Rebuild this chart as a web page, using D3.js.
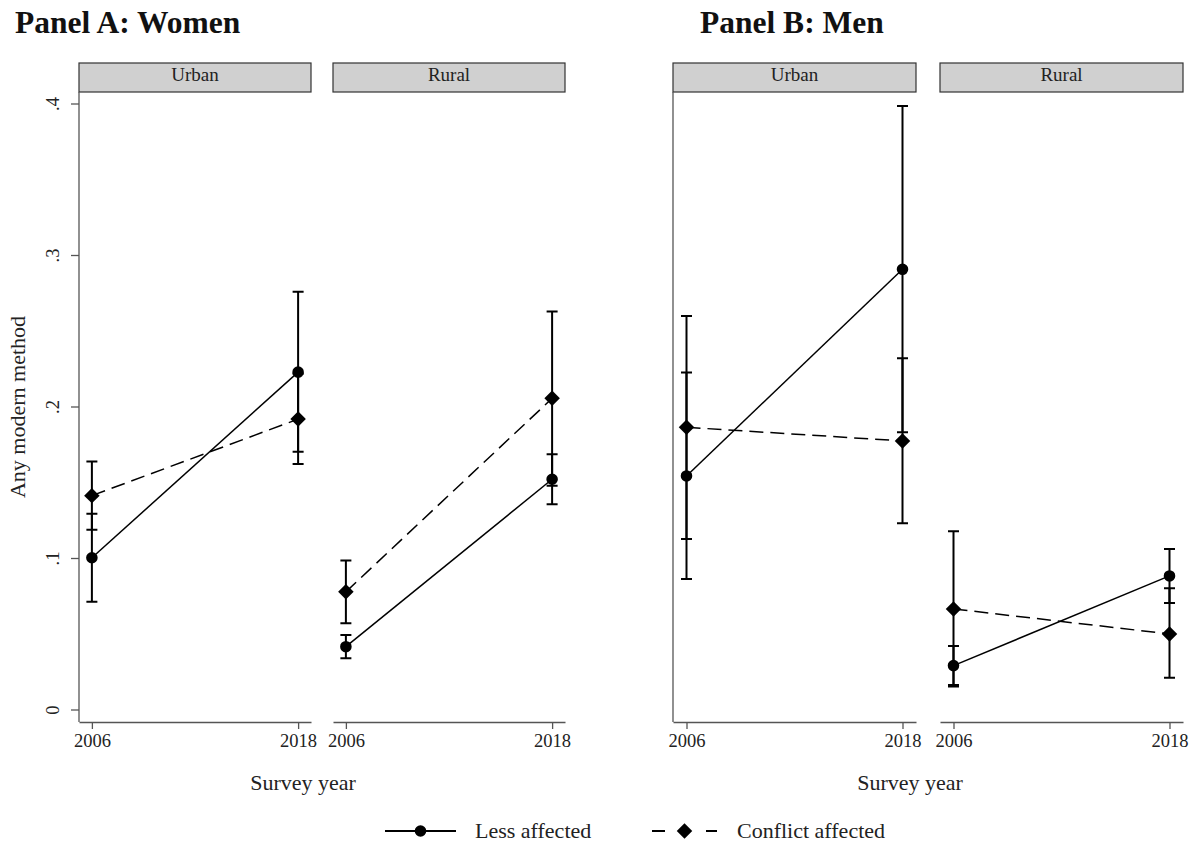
<!DOCTYPE html>
<html>
<head>
<meta charset="utf-8">
<script src="https://cdn.jsdelivr.net/npm/d3@7"></script>
<style>
  body { margin: 0; background: #fff; }
  svg { display: block; font-family: "Liberation Serif", "Times New Roman", serif; }
</style>
</head>
<body>
<svg id="chart" width="1195" height="845"></svg>
<script>
// facets in drawing order: Women-Urban, Women-Rural, Men-Urban, Men-Rural
var panelTitles = ['Panel A: Women', 'Panel B: Men']
var areas = ['Urban', 'Rural', 'Urban', 'Rural']
var years = [2006, 2018]
var yTicks = [0, 0.1, 0.2, 0.3, 0.4]
var yTickLabels = ['0', '.1', '.2', '.3', '.4']
var seriesNames = ['Less affected', 'Conflict affected']

// point estimates and CI bounds, [2006, 2018] per facet
var lessEst = [[0.1005, 0.223], [0.0418, 0.1523], [0.1545, 0.2909], [0.0293, 0.0885]]
var lessLo = [[0.0715, 0.1705], [0.0341, 0.1358], [0.0865, 0.1833], [0.0165, 0.0707]]
var lessHi = [[0.1295, 0.276], [0.0495, 0.1688], [0.2227, 0.3987], [0.0422, 0.1063]]

var conflictEst = [[0.1415, 0.192], [0.078, 0.2057], [0.1866, 0.1776], [0.0667, 0.0502]]
var conflictLo = [[0.119, 0.1624], [0.0572, 0.148], [0.1129, 0.1232], [0.0155, 0.0213]]
var conflictHi = [[0.164, 0.222], [0.0986, 0.263], [0.260, 0.2321], [0.118, 0.0803]]

var svg = d3.select('#chart')

var axisColor = '#555'
var textColor = '#222'
var plotTop = 92, plotBottom = 722

var facets = [
  {x0: 79, x1: 311, yAxis: true, yLabels: true},
  {x0: 333, x1: 565},
  {x0: 673, x1: 916, yAxis: true},
  {x0: 940, x1: 1183}
]

var y = d3.scaleLinear().domain([0, 0.4]).range([710, 104])

// panel titles
svg.selectAll('text.panel-title')
  .data(panelTitles)
  .join('text')
  .attr('class', 'panel-title')
  .attr('x', (d, i) => i == 0 ? 15 : 700)
  .attr('y', 33)
  .attr('font-size', 31.5)
  .attr('font-weight', 'bold')
  .attr('fill', '#111')
  .text(d => d)

function rows(est, lo, hi, f){
  return years.map((yr, j) => ({year: yr, est: est[f][j], lo: lo[f][j], hi: hi[f][j]}))
}

facets.forEach((fc, f) => {
  var x = d3.scaleLinear().domain([2005.25, 2018.75]).range([fc.x0, fc.x1])
  var g = svg.append('g')

  // strip
  g.append('rect')
    .attr('x', fc.x0).attr('y', 63)
    .attr('width', fc.x1 - fc.x0).attr('height', plotTop - 63)
    .attr('fill', '#d0d0d0').attr('stroke', '#333').attr('stroke-width', 1.2)
  g.append('text')
    .attr('x', (fc.x0 + fc.x1)/2).attr('y', 81)
    .attr('text-anchor', 'middle').attr('font-size', 19).attr('fill', textColor)
    .text(areas[f])

  // x axis
  var xAxis = d3.axisBottom(x).tickValues(years).tickFormat(d3.format('d'))
    .tickSizeInner(7).tickSizeOuter(0).tickPadding(5)
  var xg = g.append('g').attr('transform', 'translate(0,' + plotBottom + ')').call(xAxis)
  xg.select('.domain').attr('stroke', axisColor).attr('stroke-width', 1.3)
  xg.selectAll('.tick line').attr('stroke', axisColor).attr('stroke-width', 1.3)
  xg.selectAll('.tick text')
    .attr('font-family', '"Liberation Serif", serif')
    .attr('font-size', 18.5).attr('fill', textColor)

  // y axis
  if (fc.yAxis){
    g.append('line')
      .attr('x1', fc.x0).attr('x2', fc.x0)
      .attr('y1', plotTop).attr('y2', plotBottom)
      .attr('stroke', axisColor).attr('stroke-width', 1.3)
  }
  if (fc.yLabels){
    g.selectAll('line.ytick')
      .data(yTicks)
      .join('line')
      .attr('class', 'ytick')
      .attr('x1', fc.x0 - 8).attr('x2', fc.x0)
      .attr('y1', d => y(d)).attr('y2', d => y(d))
      .attr('stroke', axisColor).attr('stroke-width', 1.3)
    g.selectAll('text.ytick')
      .data(yTicks)
      .join('text')
      .attr('class', 'ytick')
      .attr('transform', d => 'translate(59,' + y(d) + ') rotate(-90)')
      .attr('text-anchor', 'middle')
      .attr('font-size', 18.5).attr('fill', textColor)
      .text((d, i) => yTickLabels[i])
  }

  var series = [
    {data: rows(lessEst, lessLo, lessHi, f), dash: null, shape: 'circle'},
    {data: rows(conflictEst, conflictLo, conflictHi, f), dash: '14,7', shape: 'diamond'}
  ]

  // confidence intervals
  series.forEach(s => {
    var cap = 5.5
    g.selectAll(null)
      .data(s.data)
      .join('path')
      .attr('d', d => 'M' + [x(d.year), y(d.lo)] + 'V' + y(d.hi) +
        'M' + [x(d.year) - cap, y(d.lo)] + 'H' + (x(d.year) + cap) +
        'M' + [x(d.year) - cap, y(d.hi)] + 'H' + (x(d.year) + cap))
      .attr('fill', 'none').attr('stroke', '#000').attr('stroke-width', 2)
  })

  var line = d3.line().x(d => x(d.year)).y(d => y(d.est))
  series.forEach(s => {
    g.append('path')
      .datum(s.data)
      .attr('d', line)
      .attr('fill', 'none').attr('stroke', '#000').attr('stroke-width', 1.5)
      .attr('stroke-dasharray', s.dash)
  })

  series.forEach(s => {
    var sym = s.shape == 'circle'
      ? d3.symbol(d3.symbolCircle, 105)
      : d3.symbol(d3.symbolSquare, 120)
    g.selectAll(null)
      .data(s.data)
      .join('path')
      .attr('d', sym)
      .attr('transform', d => 'translate(' + x(d.year) + ',' + y(d.est) + ')' +
        (s.shape == 'diamond' ? ' rotate(45)' : ''))
      .attr('fill', '#000')
  })
})

// y axis title
svg.append('text')
  .attr('transform', 'translate(25,407) rotate(-90)')
  .attr('text-anchor', 'middle').attr('font-size', 22).attr('fill', textColor)
  .text('Any modern method')

// x axis titles
svg.selectAll('text.xtitle')
  .data([303, 910])
  .join('text')
  .attr('class', 'xtitle')
  .attr('x', d => d).attr('y', 790)
  .attr('text-anchor', 'middle').attr('font-size', 22).attr('fill', textColor)
  .text('Survey year')

// legend
var legY = 831
var leg = svg.append('g')
var legItems = [
  {x0: 385, x1: 456, tx: 475, dash: null, shape: 'circle'},
  {x0: 652, x1: 717, tx: 737, dash: '13,41', shape: 'diamond'}
]
legItems.forEach((it, i) => {
  leg.append('line')
    .attr('x1', it.x0).attr('x2', it.x1).attr('y1', legY).attr('y2', legY)
    .attr('stroke', '#000').attr('stroke-width', 2)
    .attr('stroke-dasharray', it.dash)
  var cx = (it.x0 + it.x1)/2
  leg.append('path')
    .attr('d', it.shape == 'circle' ? d3.symbol(d3.symbolCircle, 105)() : d3.symbol(d3.symbolSquare, 120)())
    .attr('transform', 'translate(' + cx + ',' + legY + ')' + (it.shape == 'diamond' ? ' rotate(45)' : ''))
    .attr('fill', '#000')
  leg.append('text')
    .attr('x', it.tx).attr('y', legY + 7)
    .attr('font-size', 22).attr('fill', textColor)
    .text(seriesNames[i])
})
</script>
</body>
</html>
